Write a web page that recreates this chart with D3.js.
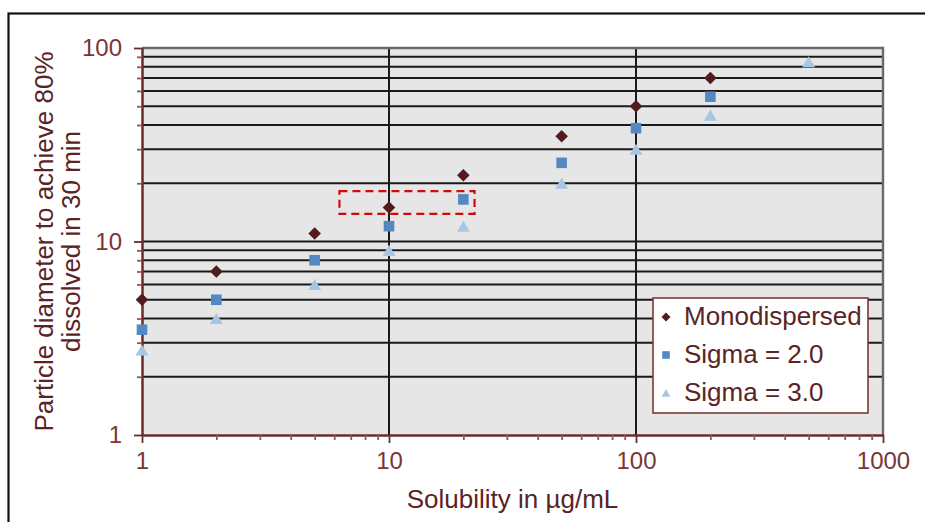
<!DOCTYPE html>
<html>
<head>
<meta charset="utf-8">
<script src="https://cdn.jsdelivr.net/npm/d3@7"></script>
<style>
  html, body { margin: 0; padding: 0; background: #fff; }
  svg { display: block; font-family: "Liberation Sans", Arial, sans-serif; }
</style>
</head>
<body>
<svg id="chart" width="925" height="522"></svg>
<script>
// Solubility (µg/mL) and the particle diameter reaching 80% dissolution in 30 min
const solubility = [1, 2, 5, 10, 20, 50, 100, 200, 500];
const monodispersed = [5, 7, 11, 15, 22, 35, 50, 70];
const sigma2 = [3.5, 5, 8, 12, 16.5, 25.5, 38.5, 56];
const sigma3 = [2.75, 4, 6, 9, 12, 20, 30, 45, 85];

const seriesNames = ["Monodispersed", "Sigma = 2.0", "Sigma = 3.0"];
const xMajorTicks = [1, 10, 100, 1000];
const yMajorTicks = [1, 10, 100];
const xTitle = "Solubility in µg/mL";
const yTitleLines = ["Particle diameter to achieve 80%", "dissolved in 30 min"];

// highlighted region (solubility range, diameter range)
const highlightX = [6.3, 22.2];
const highlightY = [13.9, 18.2];

const W = 925, H = 522;
const plot = { left: 142, right: 883, top: 48, bottom: 435 };

const svg = d3.select("#chart");

const x = d3.scaleLog().domain([1, 1000]).range([plot.left, plot.right]);
const y = d3.scaleLog().domain([1, 100]).range([plot.bottom, plot.top]);

const minorOf = ticks => {
  const out = [];
  for (let i = 0; i < ticks.length - 1; i++) {
    for (let k = 2; k <= 9; k++) out.push(ticks[i] * k);
  }
  return out;
};
const xMinor = minorOf(xMajorTicks);
const yMinor = minorOf(yMajorTicks);

// outer frame
svg.append("rect")
  .attr("x", 8.5).attr("y", 13.5)
  .attr("width", W + 20).attr("height", H + 20)
  .attr("fill", "none").attr("stroke", "#111").attr("stroke-width", 2.2);

// plot background
svg.append("rect")
  .attr("x", plot.left).attr("y", plot.top)
  .attr("width", plot.right - plot.left).attr("height", plot.bottom - plot.top)
  .attr("fill", "#e6e6e6");

// horizontal gridlines at every 1..9 x decade
const yGrid = yMinor.concat([10]);
svg.append("g").selectAll("line").data(yGrid).join("line")
  .attr("x1", plot.left).attr("x2", plot.right)
  .attr("y1", d => y(d)).attr("y2", d => y(d))
  .attr("stroke", "#1a1a1a").attr("stroke-width", 2);

// vertical gridlines at the inner decades
svg.append("g").selectAll("line").data([10, 100]).join("line")
  .attr("x1", d => x(d)).attr("x2", d => x(d))
  .attr("y1", plot.top).attr("y2", plot.bottom)
  .attr("stroke", "#1a1a1a").attr("stroke-width", 2);

// plot border (top and right)
svg.append("path")
  .attr("d", `M${plot.left},${y(100)}H${x(1000)}V${plot.bottom}`)
  .attr("fill", "none").attr("stroke", "#6a6a6a").attr("stroke-width", 2.4);

// axes
const axisColor = "#6b2c2c";
const labelColor = "#7a3535";

const yAxisMajor = svg.append("g").attr("transform", `translate(${plot.left},0)`)
  .call(d3.axisLeft(y).tickValues(yMajorTicks).tickFormat(d3.format("d"))
    .tickSizeInner(8).tickSizeOuter(0).tickPadding(12));
const yAxisMinor = svg.append("g").attr("transform", `translate(${plot.left},0)`)
  .call(d3.axisLeft(y).tickValues(yMinor).tickFormat("").tickSizeInner(5).tickSizeOuter(0));

const xAxisMajor = svg.append("g").attr("transform", `translate(0,${plot.bottom})`)
  .call(d3.axisBottom(x).tickValues(xMajorTicks).tickFormat(d3.format("d"))
    .tickSizeInner(8).tickSizeOuter(0).tickPadding(9));
const xAxisMinor = svg.append("g").attr("transform", `translate(0,${plot.bottom})`)
  .call(d3.axisBottom(x).tickValues(xMinor).tickFormat("").tickSizeInner(5).tickSizeOuter(0));

[yAxisMajor, yAxisMinor, xAxisMajor, xAxisMinor].forEach(g => {
  g.select(".domain").attr("stroke", axisColor).attr("stroke-width", 2);
  g.selectAll(".tick line").attr("stroke", axisColor).attr("stroke-width", 1.8);
  g.selectAll(".tick text")
    .attr("fill", labelColor)
    .style("font-size", "24px")
    .style("font-family", "'Liberation Sans', Arial, sans-serif");
});
yAxisMinor.selectAll(".tick line").attr("stroke", "#a05050");
xAxisMinor.selectAll(".tick line").attr("stroke", "#a05050");

// axis titles
const titleColor = "#5a2424";
svg.append("text")
  .attr("x", (plot.left + plot.right) / 2).attr("y", 508)
  .attr("text-anchor", "middle")
  .attr("fill", titleColor)
  .style("font-size", "26px")
  .text(xTitle);

const yTitle = svg.append("text")
  .attr("transform", `translate(53,${(plot.top + plot.bottom) / 2}) rotate(-90)`)
  .attr("text-anchor", "middle")
  .attr("fill", titleColor)
  .style("font-size", "26px");
yTitle.selectAll("tspan").data(yTitleLines).join("tspan")
  .attr("x", 0).attr("dy", (d, i) => i === 0 ? 0 : 27)
  .text(d => d);

// marker shapes
const diamond = r => `M0,${-r}L${r},0L0,${r}L${-r},0Z`;
const square = r => `M${-r},${-r}H${r}V${r}H${-r}Z`;
const triangle = r => `M0,${-r * 0.85}L${r},${r * 0.85}L${-r},${r * 0.85}Z`;

const series = [
  { name: seriesNames[0], values: monodispersed, color: "#531b1b", shape: diamond, r: 6.3, lr: 4.5 },
  { name: seriesNames[1], values: sigma2, color: "#5388c2", shape: square, r: 5.3, lr: 3.8 },
  { name: seriesNames[2], values: sigma3, color: "#a7c6e5", shape: triangle, r: 6.5, lr: 4.5 }
];

series.forEach(s => {
  const pts = s.values.map((v, i) => ({ x: solubility[i], y: v }));
  svg.append("g").selectAll("path").data(pts).join("path")
    .attr("transform", d => `translate(${x(d.x)},${y(d.y)})`)
    .attr("d", s.shape(s.r))
    .attr("fill", s.color);
});

// highlighted dashed region
svg.append("rect")
  .attr("x", x(highlightX[0])).attr("y", y(highlightY[1]))
  .attr("width", x(highlightX[1]) - x(highlightX[0]))
  .attr("height", y(highlightY[0]) - y(highlightY[1]))
  .attr("fill", "none")
  .attr("stroke", "#d10a0a").attr("stroke-width", 2.2)
  .attr("stroke-dasharray", "8,5");

// legend
const legend = svg.append("g").attr("transform", "translate(653,298)");
legend.append("rect")
  .attr("width", 215).attr("height", 115)
  .attr("fill", "#fff").attr("stroke", "#7a3a3a").attr("stroke-width", 1.6);
const rowY = [19, 57, 95];
series.forEach((s, i) => {
  legend.append("path")
    .attr("transform", `translate(13,${rowY[i]})`)
    .attr("d", s.shape(s.lr))
    .attr("fill", s.color);
  legend.append("text")
    .attr("x", 31).attr("y", rowY[i] + 8)
    .attr("fill", titleColor)
    .style("font-size", "26px")
    .text(s.name);
});
</script>
</body>
</html>
